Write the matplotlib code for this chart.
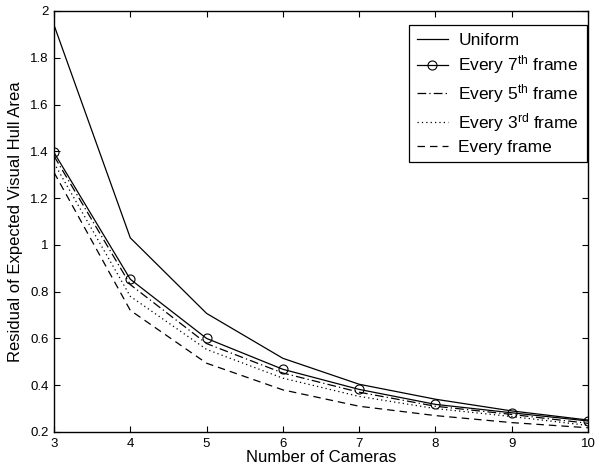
import numpy as np
import matplotlib
matplotlib.use("Agg")
import matplotlib.pyplot as plt

# Section: Style
# ---
plt.rcParams['font.family'] = ['Liberation Sans', 'DejaVu Sans']
plt.rcParams['mathtext.fontset'] = 'custom'
plt.rcParams['mathtext.rm'] = 'Liberation Sans'
plt.rcParams['mathtext.it'] = 'Liberation Sans:italic'

# Section: Data
# ---
cameras = [3, 4, 5, 6, 7, 8, 9, 10]
uniform = [1.94, 1.03, 0.707, 0.515, 0.404, 0.34, 0.29, 0.251]
every7 = [1.395, 0.853, 0.60, 0.468, 0.382, 0.318, 0.282, 0.247]
every5 = [1.38, 0.83, 0.578, 0.452, 0.37, 0.31, 0.275, 0.237]
every3 = [1.35, 0.78, 0.553, 0.43, 0.352, 0.30, 0.266, 0.228]
every1 = [1.31, 0.72, 0.494, 0.38, 0.31, 0.27, 0.24, 0.218]

# Section: Plot
# ---
fig = plt.figure(figsize=(6.0, 4.68), dpi=100)
ax = fig.add_axes([0.09, 0.077, 0.89, 0.8995])

ax.plot(cameras, uniform, color='black', lw=0.9, label='Uniform')
ax.plot(cameras, every7, color='black', lw=0.9, marker='o', ms=6.5,
        mfc='none', mew=0.8, label=r'Every 7$^{\mathrm{th}}$ frame')
ax.plot(cameras, every5, color='black', lw=0.9, ls=(0, (7, 2.5, 1, 2.5)),
        label=r'Every 5$^{\mathrm{th}}$ frame')
ax.plot(cameras, every3, color='black', lw=0.9, ls=(0, (1, 2.5)),
        label=r'Every 3$^{\mathrm{rd}}$ frame')
ax.plot(cameras, every1, color='black', lw=0.9, ls=(0, (6, 4)),
        label='Every frame')

ax.set_xlim(3, 10)
ax.set_ylim(0.2, 2)
ax.set_xticks(np.arange(3, 11, 1))
ax.set_yticks([0.2, 0.4, 0.6, 0.8, 1, 1.2, 1.4, 1.6, 1.8, 2])
ax.set_yticklabels(['0.2', '0.4', '0.6', '0.8', '1', '1.2', '1.4', '1.6', '1.8', '2'])
ax.tick_params(direction='in', top=True, right=True, length=4, width=0.8,
               labelsize=9.5, pad=4)
for s in ax.spines.values():
    s.set_linewidth(1.0)

ax.set_xlabel('Number of Cameras', fontsize=12, labelpad=0)
ax.set_ylabel('Residual of Expected Visual Hull Area', fontsize=12, labelpad=5)

leg = ax.legend(loc='upper right', bbox_to_anchor=(0.998, 0.967),
                borderaxespad=0, fontsize=12.5, fancybox=False,
                edgecolor='black', framealpha=1, handlelength=1.8,
                handletextpad=0.6, labelspacing=0.33, borderpad=0.45)
leg.get_frame().set_linewidth(0.9)

fig.savefig('out.png', dpi=100)
